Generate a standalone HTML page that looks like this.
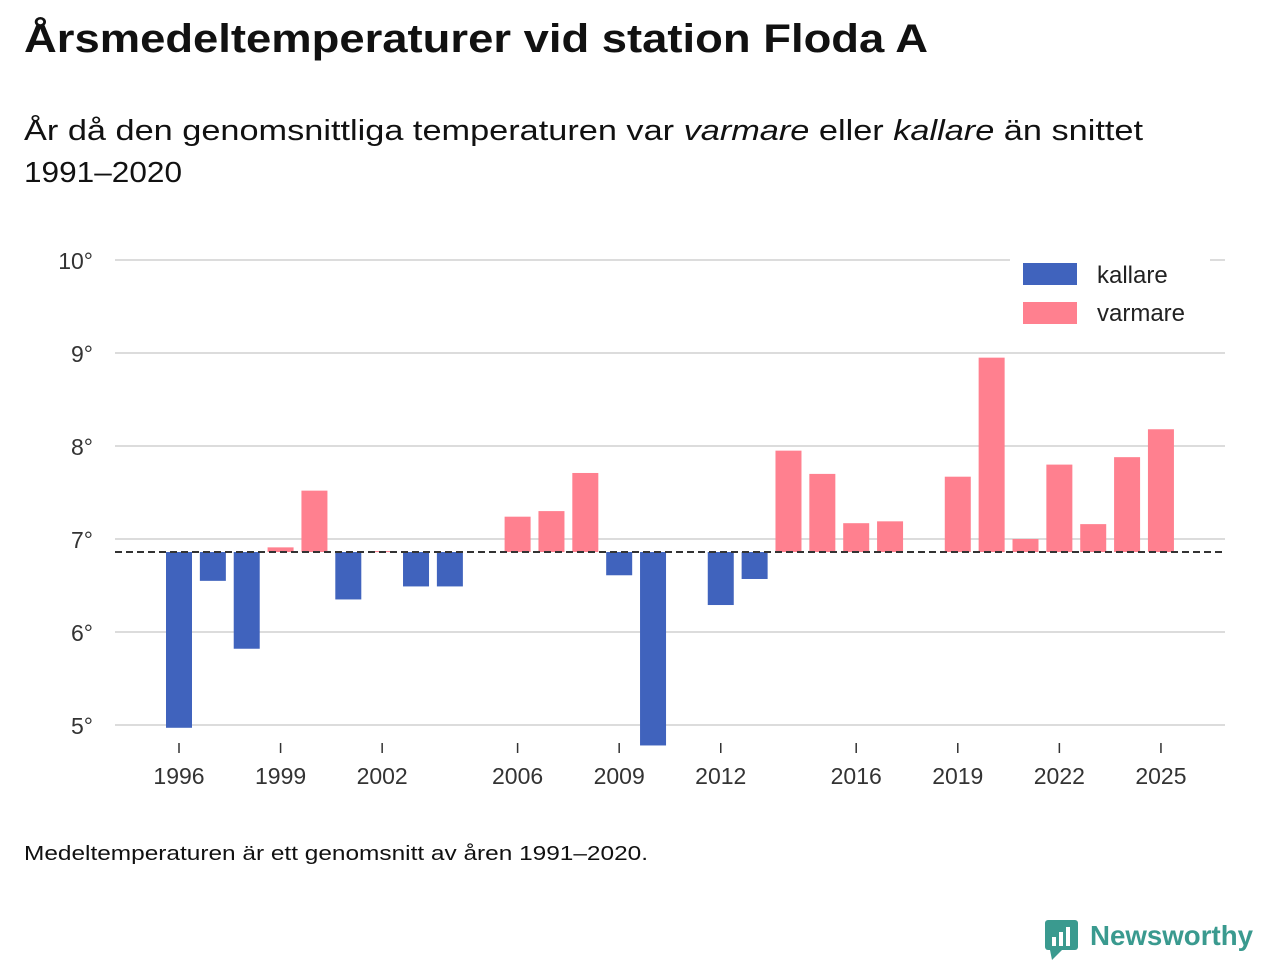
<!DOCTYPE html>
<html><head><meta charset="utf-8">
<style>
html,body{margin:0;padding:0;background:#fff;width:1280px;height:960px;overflow:hidden;font-family:"Liberation Sans","DejaVu Sans",sans-serif;}
</style></head>
<body>
<svg width="1280" height="960" xmlns="http://www.w3.org/2000/svg" id="svg" font-family="Liberation Sans, DejaVu Sans, sans-serif">
<text x="24" y="52" font-size="40" font-weight="bold" fill="#111" textLength="904" lengthAdjust="spacingAndGlyphs">Årsmedeltemperaturer vid station Floda A</text>
<text x="24" y="140" font-size="29" fill="#111" textLength="1119" lengthAdjust="spacingAndGlyphs">År då den genomsnittliga temperaturen var <tspan font-style="italic">varmare</tspan> eller <tspan font-style="italic">kallare</tspan> än snittet</text>
<text x="24" y="182" font-size="29" fill="#111" textLength="158" lengthAdjust="spacingAndGlyphs">1991–2020</text>
<g id="grid"></g>
<g id="bars"></g>
<g id="axes"></g>
<g>
<rect x="1010" y="255" width="200" height="78" fill="#fff"/>
<rect x="1023" y="263" width="54" height="22" fill="#4063bd"/>
<text x="1097" y="283" font-size="24" fill="#222">kallare</text>
<rect x="1023" y="302" width="54" height="22" fill="#ff808f"/>
<text x="1097" y="321" font-size="24" fill="#222">varmare</text>
</g>
<text x="24" y="860" font-size="20" fill="#111" textLength="624" lengthAdjust="spacingAndGlyphs">Medeltemperaturen är ett genomsnitt av åren 1991–2020.</text>
<g>
<rect x="1045" y="920" width="33" height="30" rx="3" fill="#3a9a8f"/>
<polygon points="1050,950 1062,950 1052,960" fill="#3a9a8f"/>
<rect x="1052" y="937" width="4" height="9" fill="#fff"/><rect x="1059" y="932" width="4" height="14" fill="#fff"/><rect x="1066" y="927" width="4" height="19" fill="#fff"/>
<text x="1090" y="945" font-size="28" font-weight="bold" fill="#3a9a8f" textLength="163" lengthAdjust="spacingAndGlyphs">Newsworthy</text>
</g>
</svg>
<script>
const years=[1996,1997,1998,1999,2000,2001,2002,2003,2004,2005,2006,2007,2008,2009,2010,2011,2012,2013,2014,2015,2016,2017,2018,2019,2020,2021,2022,2023,2024,2025];
const temps=[4.97,6.55,5.82,6.91,7.52,6.35,6.87,6.49,6.49,null,7.24,7.30,7.71,6.61,4.78,null,6.29,6.57,7.95,7.70,7.17,7.19,null,7.67,8.95,7.00,7.80,7.16,7.88,8.18];
const baseline=6.86;
const yTicks=[5,6,7,8,9,10];
const xTickYears=[1996,1999,2002,2006,2009,2012,2016,2019,2022,2025];
const NS="http://www.w3.org/2000/svg";
const xs=y=>179+(y-1996)*33.86;
const ys=v=>539-(v-7)*93;
function mk(tag,attrs,parent){const e=document.createElementNS(NS,tag);for(const k in attrs)e.setAttribute(k,attrs[k]);parent.appendChild(e);return e;}
const grid=document.getElementById('grid'),bars=document.getElementById('bars'),axes=document.getElementById('axes');
yTicks.forEach(t=>{
 const l=mk('line',{x1:115,x2:1225,y1:ys(t),y2:ys(t),stroke:'#dcdcdc','stroke-width':2},grid);
 
 
 const tx=mk('text',{x:93,y:ys(t)+9,'font-size':23,fill:'#333','text-anchor':'end'},axes);
 tx.textContent=t+'°';
 
 
});
years.forEach((yr,i)=>{
 const v=temps[i]; if(v==null) return;
 const y0=ys(baseline),y1=ys(v);
 const r=mk('rect',{x:xs(yr)-13,width:26,y:Math.min(y0,y1),height:Math.max(1,Math.abs(y1-y0)),fill:v<baseline?'#4063bd':'#ff808f'},bars);
 
 
});
const bl=mk('line',{x1:115,x2:1225,y1:ys(baseline),y2:ys(baseline),stroke:'#333','stroke-width':2,'stroke-dasharray':'7,4'},axes);


xTickYears.forEach(yr=>{
 const tk=mk('line',{x1:xs(yr),x2:xs(yr),y1:743,y2:753,stroke:'#333','stroke-width':1.5},axes);
 
 
 const tx=mk('text',{x:xs(yr),y:784,'font-size':23,fill:'#333','text-anchor':'middle'},axes);
 tx.textContent=yr;
 
 
});
</script>
</body></html>
